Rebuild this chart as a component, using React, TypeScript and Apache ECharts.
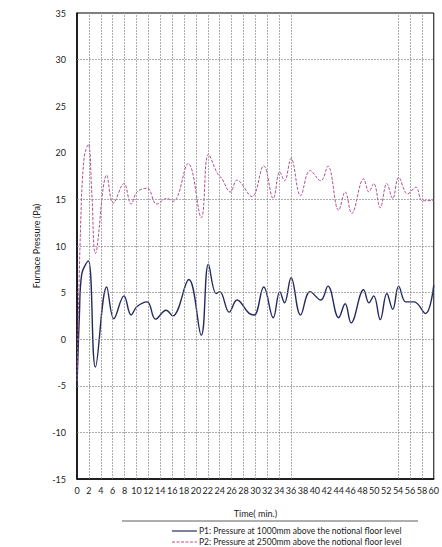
import React, { useEffect, useRef } from "react";
import * as echarts from "echarts";

const p1Time = [0, 0.4, 0.8, 1.9, 3.1, 5.0, 6.2, 7.9, 9.1, 10.1, 11.8, 13.2, 15.0, 16.1, 18.8, 20.9, 22.1, 23.4, 24.0, 25.6, 26.9, 28.9, 29.8, 31.4, 33.0, 34.1, 34.9, 36.0, 37.6, 39.2, 41.0, 42.2, 44.0, 45.1, 46.1, 48.2, 49.1, 49.9, 51.0, 52.1, 53.1, 54.1, 55.3, 56.7, 58.6, 60];
const p1Value = [-5.2, 2.5, 7.0, 8.4, -3.0, 5.6, 2.2, 4.65, 2.6, 3.5, 4.0, 2.15, 3.1, 2.5, 6.4, 0.43, 8.05, 4.9, 5.1, 2.9, 4.2, 2.8, 2.6, 5.6, 2.3, 5.1, 3.9, 6.6, 2.6, 5.1, 4.2, 5.7, 2.3, 3.8, 1.75, 5.3, 3.9, 4.65, 2.1, 4.9, 3.2, 5.7, 4.0, 4.0, 2.75, 5.8];

const p2Time = [0, 0.6, 1.2, 1.9, 2.5, 3.1, 5.0, 6.1, 7.9, 9.1, 10.1, 11.8, 13.4, 15.1, 16.2, 18.7, 20.9, 22.1, 23.6, 24.3, 25.8, 26.9, 29.4, 31.4, 33.0, 34.1, 34.9, 36.0, 37.6, 39.2, 41.0, 42.2, 44.0, 45.1, 46.2, 48.2, 49.1, 49.9, 51.0, 52.1, 53.1, 54.1, 55.6, 57.0, 58.1, 60];
const p2Value = [-4.5, 12, 19.5, 20.9, 15.5, 9.2, 17.6, 14.6, 16.7, 14.5, 15.8, 16.2, 14.5, 15.1, 14.8, 18.85, 13.05, 19.85, 17.8, 17.3, 15.8, 17.06, 15.3, 18.6, 15.1, 17.95, 17.0, 19.4, 15.4, 18.1, 17.0, 18.56, 13.84, 15.8, 13.5, 17.2, 15.8, 16.7, 14.1, 16.7, 15.1, 17.35, 15.6, 16.3, 14.85, 14.9];

const verticalGrid = [2, 4, 6, 8, 10, 12, 14, 16, 18, 20, 22, 24, 26, 28, 30, 32, 34, 36, 54, 56, 58];
const horizontalGrid = [30, 15, 10, 5, 0, -5, -10];

const p1Name = "P1: Pressure at 1000mm above the notional floor level";
const p2Name = "P2: Pressure at 2500mm above the notional floor level";

const FONT = "Lato, 'Open Sans', sans-serif";
const P1_COLOR = "#232b5e";
const P2_COLOR = "#b0508e";

export default function App() {
  const ref = useRef<HTMLDivElement>(null);
  useEffect(() => {
    if (!ref.current) return;
    const chart = echarts.init(ref.current, undefined, { renderer: "svg" });
    const gridStyle = { color: "#8a8a8a", width: 0.7, type: [2, 1] as any };
    chart.setOption({
      animation: false,
      backgroundColor: "#ffffff",
      textStyle: { fontFamily: FONT },
      grid: {
        left: 77,
        top: 13,
        right: 2,
        bottom: 68,
        show: true,
        borderColor: "#000",
        borderWidth: 1,
      },
      xAxis: {
        type: "value",
        min: 0,
        max: 60,
        interval: 2,
        name: "Time( min.)",
        nameLocation: "middle",
        nameGap: 30,
        nameTextStyle: { fontSize: 9, color: "#222" },
        axisLine: { show: true, onZero: false, lineStyle: { color: "#000", width: 1.5 } },
        axisTick: { show: false },
        axisLabel: { fontSize: 9, color: "#222", margin: 7 },
        splitLine: { show: false },
      },
      yAxis: {
        type: "value",
        min: -15,
        max: 35,
        interval: 5,
        name: "Furnace Pressure (Pa)",
        nameLocation: "middle",
        nameGap: 36,
        nameTextStyle: { fontSize: 9, color: "#222" },
        axisLine: { show: true, onZero: false, lineStyle: { color: "#000", width: 1.5 } },
        axisTick: { show: false },
        axisLabel: { fontSize: 9, color: "#222", margin: 11 },
        splitLine: { show: false },
      },
      graphic: [
        {
          type: "line",
          shape: { x1: 122, y1: 521, x2: 418, y2: 521 },
          style: { stroke: "#333", lineWidth: 0.8 },
          silent: true,
        },
        {
          type: "line",
          shape: { x1: 172, y1: 531, x2: 197, y2: 531 },
          style: { stroke: P1_COLOR, lineWidth: 1.2 },
          silent: true,
        },
        {
          type: "text",
          x: 199,
          y: 531,
          style: { text: p1Name, fontSize: 8.5, fill: "#222", fontFamily: FONT, verticalAlign: "middle", align: "left" },
          silent: true,
        },
        {
          type: "line",
          shape: { x1: 172, y1: 542, x2: 197, y2: 542 },
          style: { stroke: P2_COLOR, lineWidth: 1, lineDash: [3, 1.5] },
          silent: true,
        },
        {
          type: "text",
          x: 199,
          y: 542,
          style: { text: p2Name, fontSize: 8.5, fill: "#222", fontFamily: FONT, verticalAlign: "middle", align: "left" },
          silent: true,
        },
      ],
      series: [
        {
          name: "grid",
          type: "line",
          data: [],
          z: 1,
          silent: true,
          markLine: {
            silent: true,
            symbol: "none",
            label: { show: false },
            lineStyle: gridStyle,
            data: [
              ...verticalGrid.map((v) => ({ xAxis: v })),
              ...horizontalGrid.map((v) => ({ yAxis: v })),
            ],
          },
        },
        {
          name: p1Name,
          type: "line",
          z: 3,
          smooth: 0.4,
          symbol: "none",
          data: p1Time.map((t, i) => [t, p1Value[i]]),
          lineStyle: { color: P1_COLOR, width: 1.4 },
          itemStyle: { color: P1_COLOR },
        },
        {
          name: p2Name,
          type: "line",
          z: 3,
          smooth: 0.4,
          symbol: "none",
          data: p2Time.map((t, i) => [t, p2Value[i]]),
          lineStyle: { color: P2_COLOR, width: 1, type: [3, 1.5] },
          itemStyle: { color: P2_COLOR },
        },
      ],
    });
    return () => chart.dispose();
  }, []);
  return <div ref={ref} style={{ width: 442, height: 547, position: "absolute", left: 0, top: 0 }} />;
}
